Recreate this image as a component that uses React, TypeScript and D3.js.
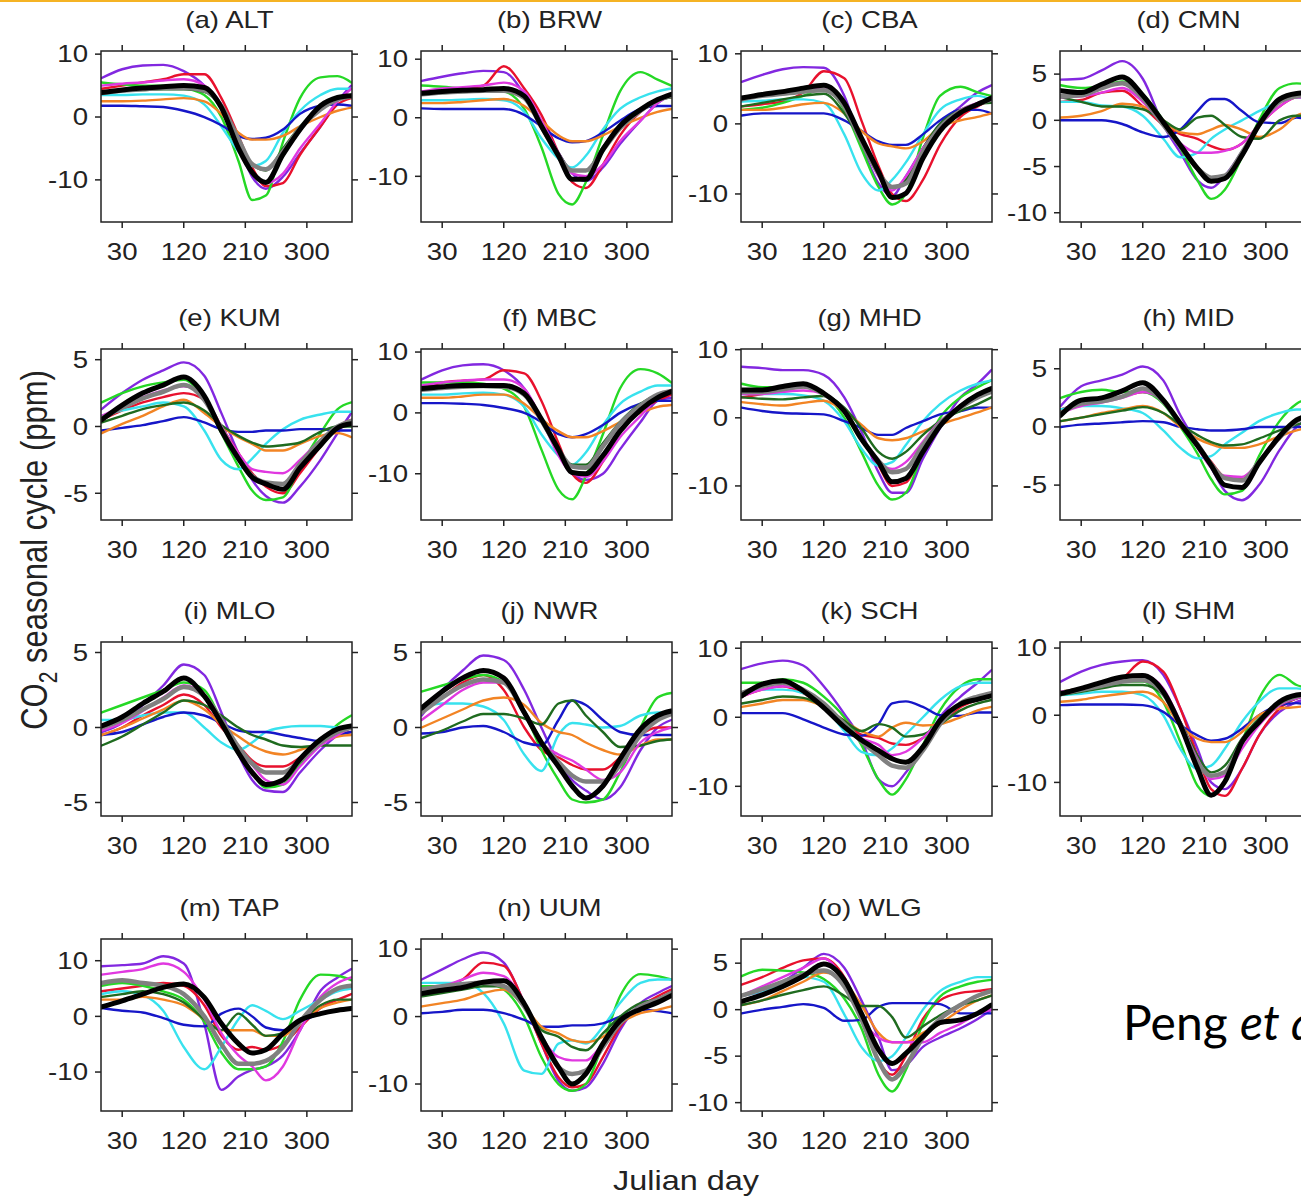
import React from "react";
import * as d3 from "d3";

// days at which every curve is sampled
const days = [0, 30, 60, 90, 120, 150, 175, 200, 220, 240, 265, 290, 320, 345, 365];
const dayTicks = [30, 120, 210, 300];

// order: 8 models, model mean (gray), observation (black)
const lineColors = ["#8228e0", "#e8112d", "#25d825", "#38e2ee", "#1616c8", "#f28424", "#1f6b1f", "#e038e0", "#808080", "#000000"];
const lineWidths = [2.4, 2.4, 2.4, 2.4, 2.4, 2.4, 2.4, 2.4, 4.5, 5];

const ALT = [
  [6.2, 7.6, 8.2, 8.3, 7.3, 5, 1.5, -4.5, -9.5, -11.4, -9.5, -5.8, -1.5, 2.5, 5],
  [4.5, 5, 5.5, 6, 6.8, 6.8, 3, -3, -8, -11, -10.5, -6, -1.5, 2, 3],
  [5.5, 5.2, 5, 5, 4.6, 3.5, 0, -7, -13.2, -12.5, -4, 3, 6.3, 6.5, 5.5],
  [3.5, 3.5, 3.6, 3.6, 3.4, 2, -1.5, -5.5, -7.8, -7, -2.5, 1, 3.5, 4.5, 4.5],
  [1.8, 1.8, 1.7, 1.6, 1.0, 0, -1.3, -3, -3.5, -3.3, -2, 0.5, 1.8, 2, 1.8],
  [2.5, 2.5, 2.6, 2.8, 3, 2.5, 0.5, -2.5, -3.6, -3.6, -3, -1.5, 0, 1, 1.5],
  [4, 4.2, 4.3, 4.4, 4.4, 4, 1.5, -4, -7.5, -8.5, -5, -1.5, 1.5, 3, 3.5],
  [5, 5.3, 5.5, 5.8, 6, 5, 2, -4, -9, -10.5, -9, -5, -1, 2.5, 4.5],
  [3.8, 4.2, 4.4, 4.6, 4.6, 4.2, 1.8, -3.5, -7.5, -8.3, -5.5, -1.8, 1.2, 2.8, 3.3],
  [3.9, 4.3, 4.6, 4.8, 5.0, 4.7, 1.5, -5, -8.8, -10.4, -6, -2, 1.8, 3.1, 3.4],
];
const BRW = [
  [6.3, 7, 7.6, 8, 7.8, 4, -1, -6, -9.5, -10.8, -8.5, -4.5, -0.5, 2.5, 4],
  [4, 4.5, 5, 5.5, 8.8, 5, 0.5, -6, -11, -12, -8, -3, 1, 3, 3.5],
  [5.5, 5.3, 5, 4.8, 4.5, 1.5, -5, -13, -14.8, -11, -3, 4.5, 7.8, 6.5, 5.5],
  [3, 3, 3.1, 3.2, 3, 1, -3.5, -7, -8.5, -6.5, -2, 1.5, 3.5, 4.5, 5],
  [1.6, 1.5, 1.5, 1.5, 1.5, 0.5, -1.5, -3.5, -4.2, -4, -2.5, -0.5, 1.5, 2, 2],
  [2.5, 2.5, 2.7, 3, 3.2, 2, -0.5, -3, -4, -4, -3, -1.5, 0, 1, 1.5],
  [4, 4.2, 4.4, 4.5, 4.5, 3.5, -1, -6, -9, -9, -5, -1.5, 1.5, 3, 3.5],
  [4.5, 5, 5.2, 5.5, 6, 4.5, -0.5, -6, -9.5, -10, -8, -4, -0.5, 2.5, 4],
  [4, 4.3, 4.5, 4.6, 4.6, 3.4, -1.5, -6.5, -9, -9, -5.5, -1.8, 1.2, 3, 3.8],
  [4.2, 4.5, 4.7, 4.8, 5, 3.7, -1.4, -6.5, -10.5, -10.5, -5.4, -1.4, 1.4, 3.1, 4],
];
const CBA = [
  [6, 7, 7.8, 8.1, 8, 4, -3, -8.5, -10.3, -7.5, -3.5, 0, 2.5, 4.5, 5.5],
  [2.5, 2.8, 3.2, 4.5, 7.5, 6.5, 0.5, -6, -10, -11, -8, -3, 1, 2.5, 3.5],
  [2, 2.3, 3, 4, 5, 2, -3.5, -9, -11.5, -10, -2, 4, 5.3, 4.5, 4],
  [3.2, 3.3, 3.5, 3.5, 3, -1.5, -7, -9.5, -8, -5.5, -1.5, 2, 3.5, 4, 3.5],
  [1.2, 1.5, 1.5, 1.5, 1.5, 0.5, -1, -2.5, -3, -3, -1.5, 0.5, 2, 2, 1.5],
  [2, 2, 2.3, 2.8, 3, 1.5, -1, -2.8, -3.2, -3.5, -2.5, -0.5, 0.5, 1, 1.5],
  [2.5, 3, 3.5, 4, 4.3, 1.5, -2.5, -7, -9, -8, -3.5, 0, 2, 2.8, 3],
  [3.5, 4, 4.5, 5, 5, 2.5, -2.5, -7.5, -9.5, -7.5, -3.5, -0.5, 2, 3, 3.5],
  [3.5, 4, 4.3, 4.6, 4.8, 2.5, -2.5, -7, -9, -8.5, -4, -0.5, 1.8, 2.8, 3.5],
  [3.7, 4.2, 4.6, 5.1, 5.5, 3, -2, -6.8, -10.5, -9.9, -4.9, -1, 1.6, 2.8, 3.7],
];
const CMN = [
  [4.4, 4.5, 5.4, 6.4, 4.5, -0.5, -3.5, -6.5, -7.3, -6, -3.4, -0.5, 2.3, 2.5, 2.5],
  [2, 2.2, 3, 3.2, 1.5, -0.5, -1.5, -2, -2.8, -3.2, -2.5, -0.5, 1.5, 2.5, 2.5],
  [3.8, 3.5, 3.7, 4.2, 2.8, 0, -3, -6.5, -8.5, -7.5, -4, 0, 3.5, 4, 3.8],
  [2, 2, 1.6, 1.5, 0.5, -2, -4, -3.5, -2, -1, 0, 1, 2, 2.5, 2.5],
  [0, 0, 0, -0.4, -1.3, -1.8, -1.0, 1.0, 2.3, 2.3, 1.0, -0.2, -0.3, 0.3, 0],
  [0.3, 0.5, 1, 1.8, 1.5, 0, -1.3, -1.5, -1, -0.5, -1, -1.8, -1, 0.5, 1],
  [2.5, 2, 1.5, 1.5, 1.2, 0, -1, 0.3, 0.5, -0.5, -1.8, -2, 0, 0.5, 0.5],
  [2.5, 2.6, 3, 3.5, 2, -0.5, -2.5, -3.5, -3.5, -3.3, -2.5, -0.5, 1.5, 2.5, 2.5],
  [2.6, 2.7, 3.5, 4, 2.4, -0.5, -2.8, -5.2, -6.2, -6, -3.5, -0.5, 2, 2.6, 2.8],
  [3.2, 3, 3.9, 4.7, 2.7, -0.2, -2.7, -5.2, -6.6, -6.3, -3.8, -0.5, 2.3, 2.9, 3],
];
const KUM = [
  [1.3, 2.5, 3.5, 4.2, 4.8, 3.8, 1, -2, -4, -5.2, -5.7, -4.5, -2.5, -0.5, 1],
  [0.5, 1.2, 1.8, 2.2, 2.5, 2, 0, -2, -3.5, -4.5, -5, -3.5, -1.5, 0, 0.5],
  [1.8, 2.5, 3, 3.3, 3.5, 2, -0.5, -3, -4.8, -5.5, -5.3, -3, -0.5, 1.3, 1.8],
  [0.8, 1.2, 1.5, 1.8, 1.5, -0.3, -2.5, -3.2, -2.4, -1.3, -0.2, 0.5, 0.9, 1.1, 1.1],
  [-0.3, -0.1, 0.1, 0.4, 0.7, 0.3, -0.2, -0.4, -0.4, -0.3, -0.3, -0.2, -0.2, -0.3, -0.3],
  [-0.5, 0.2, 0.8, 1.5, 2, 1, 0, -0.8, -1.3, -1.8, -1.8, -1.3, -0.7, -0.5, -0.8],
  [0.3, 0.8, 1.3, 1.6, 1.8, 1.2, 0.1, -0.7, -1.2, -1.5, -1.4, -1.2, -0.4, 0, 0],
  [0.8, 1.5, 2.2, 2.7, 3, 2.2, 0, -2, -3.2, -3.4, -3.5, -2.5, -1, 0, 0.5],
  [0.6, 1.4, 2.1, 2.6, 3.1, 2, -0.2, -2.4, -3.7, -4.2, -4.3, -2.8, -1.1, 0, 0.4],
  [0.5, 1.6, 2.5, 3.1, 3.7, 2.3, -0.3, -2.4, -3.8, -4.3, -4.7, -3.1, -1.4, -0.1, 0.2],
];
const MBC = [
  [5.5, 7, 7.8, 8, 7, 4, -1, -6.5, -10, -11, -10, -6, -1.5, 2, 2.5],
  [4, 5, 5.3, 5.5, 7, 6.5, 2, -5, -10, -11.5, -8, -3, 0.5, 2, 3],
  [5, 5, 5, 4.8, 4, 1, -6, -12.6, -14.2, -10.4, -3.5, 4, 7.2, 6.5, 5],
  [3, 3, 3.2, 3.3, 3, 1, -3.5, -7, -8.5, -6.5, -2, 1.5, 3.5, 4.5, 4.5],
  [1.6, 1.6, 1.5, 1.3, 0.8, 0, -1.5, -3.5, -4, -3.5, -2, 0, 1.5, 2, 2],
  [2.5, 2.5, 2.7, 3, 3, 1.5, -1, -3, -4, -4, -3, -1.5, 0, 1, 1.3],
  [4, 4.2, 4.3, 4.3, 4.2, 3, -1, -6, -8.5, -8.5, -5, -1.5, 1.5, 3, 3.5],
  [4.5, 5, 5.3, 5.5, 5.5, 4, -1, -7, -10, -10.5, -8, -4, -0.5, 2.5, 3.5],
  [3.8, 4.1, 4.3, 4.4, 4.3, 3, -1.2, -6, -8.8, -9, -5.5, -1.8, 1.2, 3, 3.6],
  [4, 4.3, 4.5, 4.5, 4.5, 3.2, -1, -6, -9.8, -10, -7, -3, 0.5, 2.5, 3.5],
];
const MHD = [
  [7.5, 7.3, 7, 7, 6.3, 3, -2, -8, -11, -11, -6, -1.5, 3, 5, 7],
  [3, 3.5, 4, 4.5, 3.5, 1, -3, -7, -10, -9.5, -5, -1, 1.5, 3, 4],
  [5, 4.5, 4.5, 4.5, 3.5, 0, -5, -10, -12, -11, -5, 0, 3, 4.5, 5.5],
  [3.5, 3.5, 3.5, 3.3, 2.5, -0.5, -4.5, -7, -6.5, -4, -0.5, 2, 4, 5, 5.5],
  [1.5, 1, 0.7, 0.6, 0.5, -0.5, -1.5, -2.5, -2.5, -1.5, -0.5, 0.5, 1, 1.5, 1.5],
  [2.3, 2, 1.8, 2.2, 2.5, 1, -1, -3, -3.3, -3, -2, -1, 0, 0.8, 1.5],
  [3, 2.8, 2.7, 3, 3.2, 1.5, -1.5, -5, -6, -5, -2.5, -0.5, 1, 2, 3],
  [3.5, 3.5, 3.8, 4, 3.5, 1, -3, -6.5, -7.5, -6.5, -3.5, -0.5, 1.5, 3, 4],
  [3.8, 3.8, 4.2, 4.6, 3.5, 1, -3, -6.3, -8, -7.5, -4, -0.8, 1.5, 3, 3.8],
  [4.1, 4.1, 4.6, 5, 3.6, 1, -3.1, -6.5, -9.4, -8.9, -5, -1.2, 1.7, 3.4, 4.3],
];
const MID = [
  [1.8, 3.5, 4, 4.5, 5.2, 4, 1, -1.5, -3.5, -5.5, -6.3, -5, -2, 0, 0.8],
  [1.5, 2, 2.3, 2.6, 3, 2.2, 0.3, -1.5, -3, -4.3, -4.5, -3, -1, 0.5, 1],
  [2.5, 3, 3.2, 3, 3, 2, 0, -2.3, -4.5, -5.8, -5.5, -2.5, 0.5, 2, 2.5],
  [1.5, 1.8, 1.8, 1.6, 1.2, -0.3, -1.8, -2.7, -2.5, -1.5, -0.5, 0.5, 1.2, 1.5, 1.5],
  [0, 0.2, 0.3, 0.4, 0.5, 0.4, 0, -0.2, -0.3, -0.3, -0.2, 0, 0, 0, 0],
  [0.5, 0.8, 1.2, 1.5, 1.8, 1.2, 0, -1, -1.5, -1.8, -1.8, -1.5, -0.8, -0.3, 0],
  [0.5, 0.8, 1.1, 1.4, 1.7, 1.2, 0.2, -0.7, -1.3, -1.6, -1.5, -1, -0.3, 0.2, 0.5],
  [1.2, 1.8, 2.1, 2.5, 3, 2.2, 0.3, -1.8, -3.5, -4.2, -4.3, -3, -1, 0.5, 1],
  [1.2, 2, 2.2, 2.6, 3.3, 2.2, 0.3, -1.5, -3.2, -4.4, -4.6, -3, -0.9, 0.5, 1],
  [1, 2.3, 2.5, 3.1, 3.8, 2.3, 0.3, -1.6, -3.3, -5, -5.2, -3.1, -0.8, 0.6, 1],
];
const MLO = [
  [-0.3, 0.3, 1.5, 2.8, 4.2, 3.5, 1, -1.8, -3.5, -4.2, -4.3, -3, -1.5, -0.5, 0],
  [-0.5, 0, 0.8, 1.5, 2.2, 1.5, 0, -1.2, -2.2, -2.6, -2.6, -2, -1, -0.5, -0.3],
  [1, 1.5, 2, 2.5, 3, 2.5, 0.5, -1.5, -3, -4, -3.8, -2.5, -1, 0.2, 0.8],
  [0.5, 0.5, 0.8, 1, 1, 0, -1, -1.5, -1, -0.3, 0, 0.1, 0.1, 0, 0],
  [-0.5, -0.3, 0.2, 0.7, 1, 0.8, 0.3, -0.2, -0.3, -0.3, -0.5, -0.7, -0.9, -0.5, -0.3],
  [-0.5, 0, 0.6, 1.2, 1.8, 1.2, 0.2, -0.6, -1.2, -1.6, -1.8, -1.5, -1, -0.6, -0.5],
  [-1.2, -0.6, 0.2, 1, 1.8, 1.5, 0.8, 0, -0.5, -0.8, -1.2, -1.3, -1.2, -1.2, -1.2],
  [-0.2, 0.3, 1.1, 2, 2.8, 2.2, 0.5, -1.5, -2.5, -3.5, -3.8, -2.6, -1.2, -0.5, 0],
  [0, 0.5, 1.2, 1.9, 2.7, 2.1, 0.5, -1.3, -2.4, -3, -3, -2.2, -1, -0.3, 0],
  [0.1, 0.7, 1.6, 2.4, 3.3, 2.1, 0.3, -1.7, -3, -3.8, -3.5, -2.1, -0.8, -0.1, 0.1],
];
const NWR = [
  [0.8, 2.5, 3.8, 4.8, 4.5, 2.5, 0, -2.3, -3.5, -4.2, -4.8, -4, -1.5, 0, 0.5],
  [1, 2, 3, 3.5, 2.5, 0, -1.5, -2, -2.5, -2.8, -2.8, -2, -0.5, 0, 0],
  [2.4, 2.8, 3.2, 3.5, 3, 1, -1.5, -3.5, -4.8, -5, -4.8, -3, 0, 2, 2.3],
  [1.3, 1.6, 1.6, 1.4, 0.5, -1.8, -2.9, -0.5, 0.3, 0.2, 0, 0.1, 0.8, 1, 1],
  [-0.4, -0.3, 0, 0.1, -0.3, -1, -1.2, 0.5, 1.8, 1.5, 0.5, -0.3, -0.5, -0.5, -0.5],
  [0, 0.6, 1.2, 1.8, 2, 1.5, 0.3, -0.3, -0.5, -1, -1.5, -1.8, -1.2, -0.8, -0.8],
  [-0.7, -0.2, 0.4, 0.9, 0.9, 0.6, 0.2, 1.6, 1.8, 0.8, -0.3, -1.3, -1.2, -0.9, -0.8],
  [0.5, 1.5, 2.5, 3, 3, 1, -1, -1.8, -2.2, -2.8, -3.5, -3, -1, -0.3, 0],
  [1, 2, 2.8, 3.2, 3, 1, -1, -2.3, -3.2, -3.6, -3.6, -2.5, -0.5, 0.5, 0.9],
  [1.3, 2.4, 3.3, 3.8, 3.3, 1, -1, -2.6, -3.9, -4.7, -3.9, -2.1, -0.1, 0.8, 1.1],
];
const SCH = [
  [7, 7.8, 8.2, 7.5, 4.5, 0.5, -3.3, -9, -10, -8, -4.5, 0, 3, 5, 6.8],
  [3, 4, 4.5, 3.5, 1.5, -1, -2.5, -3, -3.8, -4, -3, -1, 1.5, 2.5, 3],
  [5, 5, 5.5, 5, 3, 0, -4, -9, -11.2, -9, -4, 1, 4.5, 5.5, 5.5],
  [3.5, 4, 4, 3.5, 1.5, -2, -5, -5.5, -4.5, -2.5, 0, 2.5, 4.5, 5, 5],
  [0.6, 0.6, 0.6, -0.3, -1.5, -2.5, -2.7, -1, 2, 2.3, 1.5, 0.3, 0.2, 0.7, 0.7],
  [1.5, 2, 2.5, 2.5, 1.5, -0.5, -2, -2.8, -1.5, -0.8, -1.2, -1, 0, 1, 1.5],
  [2, 2.5, 3, 2.8, 1.5, -0.5, -2, -1, -1.5, -2.8, -2.5, -1, 1, 2, 2.5],
  [3, 4, 4.5, 4, 2, -1, -3, -4, -5.5, -5, -3, -0.5, 2, 3, 3.5],
  [3.5, 4.5, 5, 4, 2, -1, -3.5, -5.5, -7, -7.3, -4.8, -1, 2, 3, 3.5],
  [3.1, 4.8, 5.3, 3.8, 1.4, -1.4, -3.3, -4.8, -6, -6.5, -4.3, -0.5, 1.9, 2.6, 3.1],
];
const SHM = [
  [5, 6.5, 7.5, 8, 8.2, 6, 1, -5, -10, -11, -8, -3, 0.5, 2, 2.5],
  [3.5, 4, 4.5, 5.5, 8, 6.5, 1, -6, -11, -12, -8, -3, 1, 2.5, 3],
  [3.5, 4, 4.5, 5, 5, 2, -4, -10.5, -12, -10, -4, 2.5, 6, 4.5, 4],
  [3, 3.2, 3.5, 3.5, 3, 0, -5, -8, -7.5, -5, -1, 2, 4, 4, 3.5],
  [1.5, 1.6, 1.6, 1.6, 1.5, 0.5, -1.5, -3, -3.8, -3.5, -2, 0, 1.5, 1.8, 1.5],
  [2, 2.3, 2.8, 3.2, 3.5, 2, -1.5, -3.5, -4, -4, -2.5, 0, 1, 1.2, 1.5],
  [3, 3.5, 4, 4.5, 4.5, 3, -1, -6, -8.5, -7.5, -3.5, -0.5, 1.5, 2.5, 3],
  [3.5, 4, 4.8, 5.5, 6, 4, -1, -6.5, -9.5, -9, -5, -1.5, 1.5, 2.5, 3],
  [3.2, 3.8, 4.4, 5, 5.2, 3.2, -1.5, -7, -9, -8.5, -4, -1, 1.8, 2.8, 3.2],
  [3.2, 4, 4.9, 5.7, 5.9, 3.5, -1.5, -7.9, -11.9, -9.9, -4, -1, 2, 3, 3.2],
];
const TAP = [
  [9, 9.2, 9.5, 10.8, 9.5, -1.3, -13.2, -10.8, -9.6, -9, -7, -2.5, 4.6, 7, 8.5],
  [4.5, 5, 5.5, 6, 5.5, 2, -3.5, -6, -5.5, -6, -5, -2, 1.5, 3, 4],
  [5.5, 6, 5.5, 4.5, 3, -1, -6.5, -9.5, -9.5, -9, -4.5, 3, 7.5, 7.3, 6.5],
  [4, 4.5, 3.8, 1, -5.5, -9.5, -5.5, -0.5, 2, 1, -0.5, 1, 3, 4.5, 5],
  [1.5, 1, 0.7, -0.3, -1.5, -1.8, 0.5, 1.4, 0, -2, -2.5, -1, 0.5, 1.2, 1.5],
  [3, 3, 3.5, 3, 2, -0.5, -2.5, -2.5, -2.5, -3.5, -3.5, -1, 1.5, 2.5, 3],
  [3.5, 4, 4.5, 4, 2.5, -0.5, -2.5, 0.5, -1.5, -3.5, -3, -1, 2, 3, 3],
  [7.5, 8, 8.5, 9.5, 8, 3, -3, -7, -9, -11.5, -9, -2.5, 3.5, 6, 7],
  [6, 6.5, 6, 5.5, 4, 0, -5, -8.5, -8.5, -8, -5.5, -1, 3, 5, 5.5],
  [1.7, 2.8, 4, 5.2, 5.8, 3.4, -1.3, -4.9, -6.6, -6, -3.1, -0.7, 0.5, 1.1, 1.4],
];
const UUM = [
  [5.5, 7, 8.5, 9.5, 8, 2, -4, -9.5, -11, -10.5, -7, -2, 2, 3.5, 4.5],
  [4, 4.5, 5.5, 8, 7.5, 2, -4, -9, -10.5, -10, -6, -1.5, 1.5, 3, 4],
  [4.5, 4.5, 4.8, 5, 4, 0, -6, -10, -11, -10, -4, 3, 6.3, 6, 5.5],
  [5, 5, 5, 3.5, -1, -8, -8.5, -4, -3.5, -4, -1.5, 2, 5, 5.5, 5.5],
  [0.5, 0.7, 1, 1, 0.5, -0.5, -1.5, -1.5, -1.3, -1.3, -1, 0, 1, 0.8, 0.5],
  [1.5, 2, 2.5, 3.5, 4, 1.5, -1.5, -2.5, -3.5, -3.8, -3, -1, 0.5, 1, 1.5],
  [3, 3.5, 4, 4.5, 4.5, 1.5, -2, -3, -4.5, -5, -2.5, 0, 2, 2.5, 3],
  [4, 4.5, 5.5, 6.5, 6, 2, -3, -6, -6.5, -6.5, -4, -1, 1.5, 2.5, 3.5],
  [4, 4.5, 4.8, 5, 4.5, 1.5, -3, -7.5, -8.5, -8, -4.5, -1, 1.5, 2.5, 3.5],
  [3.4, 3.9, 4.3, 5.1, 5.3, 1.9, -3.1, -7.5, -10, -8.5, -4, -0.6, 1.1, 2.1, 3.1],
];
const WLG = [
  [1.5, 2, 3, 4.5, 6, 4.5, 1, -3, -6.5, -6, -4, -3, -2, -1, 0],
  [2.7, 3.5, 4.5, 5.3, 5.5, 3.5, -0.5, -5.5, -7, -5, -1, 1, 1.8, 2, 2.2],
  [3.6, 4.3, 4.2, 4, 3.3, 1.2, -2, -7, -8.8, -6.5, -1.5, 1.4, 2.5, 3, 3.2],
  [1.5, 2, 2.8, 3.5, 3, -0.5, -4, -5.5, -5, -3, 0, 2, 3, 3.5, 3.5],
  [-0.4, 0, 0.3, 0.6, 0.2, -1.2, -1.1, 0.3, 0.7, 0.7, 0.7, 0.6, -0.4, -0.4, -0.4],
  [0.5, 1, 2, 3, 4, 3, 0.5, -2.5, -3.5, -3.5, -2.5, -1.5, 0, 1, 1.5],
  [0.5, 1, 1.6, 2.1, 2.5, 1.5, 0.4, 0.4, -0.8, -3, -1.8, -0.6, 0.5, 1, 1.5],
  [1.5, 2.5, 3.5, 4.5, 5.5, 3, -1, -3, -3.5, -3.5, -3.5, -2.5, -1.5, -0.5, 0],
  [1.5, 2.2, 3, 3.8, 4.2, 2.5, -1, -5.5, -7.5, -6, -3, -1, 0.5, 1.5, 2],
  [0.9, 1.6, 2.5, 3.6, 4.9, 3.2, -0.4, -4.3, -5.8, -4.7, -2.9, -1.4, -1.1, -0.4, 0.5],
];

const stations = [
  { title: "(a) ALT", values: ALT, yRange: [-16.7, 10.5], yTicks: [-10, 0, 10] },
  { title: "(b) BRW", values: BRW, yRange: [-17.8, 11.4], yTicks: [-10, 0, 10] },
  { title: "(c) CBA", values: CBA, yRange: [-14, 10.4], yTicks: [-10, 0, 10] },
  { title: "(d) CMN", values: CMN, yRange: [-11, 7.5], yTicks: [-10, -5, 0, 5] },
  { title: "(e) KUM", values: KUM, yRange: [-7, 5.8], yTicks: [-5, 0, 5] },
  { title: "(f) MBC", values: MBC, yRange: [-17.6, 10.5], yTicks: [-10, 0, 10] },
  { title: "(g) MHD", values: MHD, yRange: [-15, 10.1], yTicks: [-10, 0, 10] },
  { title: "(h) MID", values: MID, yRange: [-8, 6.7], yTicks: [-5, 0, 5] },
  { title: "(i) MLO", values: MLO, yRange: [-5.9, 5.7], yTicks: [-5, 0, 5] },
  { title: "(j) NWR", values: NWR, yRange: [-5.9, 5.7], yTicks: [-5, 0, 5] },
  { title: "(k) SCH", values: SCH, yRange: [-14.3, 10.9], yTicks: [-10, 0, 10] },
  { title: "(l) SHM", values: SHM, yRange: [-15, 10.9], yTicks: [-10, 0, 10] },
  { title: "(m) TAP", values: TAP, yRange: [-17, 13.9], yTicks: [-10, 0, 10] },
  { title: "(n) UUM", values: UUM, yRange: [-14, 11.5], yTicks: [-10, 0, 10] },
  { title: "(o) WLG", values: WLG, yRange: [-10.9, 7.6], yTicks: [-10, -5, 0, 5] },
];

// grid of panels
const colLeft = [101, 421, 741, 1060];
const rowTop = [51, 349, 642, 939];
const rowBottom = [222, 520, 816, 1111];
const boxW = 251;
const font = "'Liberation Sans', Arial, sans-serif";
const ink = "#222";
const stretch = 1.2; // the source image is widened horizontally

const Txt = ({ x, y, anchor = "middle", size = 23, dy = "0", children }: any) => (
  <text
    transform={`translate(${x},${y}) scale(${stretch},1)`}
    textAnchor={anchor}
    fontSize={size}
    dy={dy}
    fill={ink}
    fontFamily={font}
  >
    {children}
  </text>
);

function Panel({ st, i }: any) {
  const left = colLeft[i % 4];
  const top = rowTop[Math.floor(i / 4)];
  const bottom = rowBottom[Math.floor(i / 4)];
  const right = left + boxW;

  const x = d3.scaleLinear().domain([-1, 366]).range([left, right]);
  const y = d3.scaleLinear().domain(st.yRange).range([bottom, top]);
  const line = d3
    .line<number>()
    .x((_, j) => x(days[j]))
    .y((v) => y(v))
    .curve(d3.curveMonotoneX);

  const clipId = `clip${i}`;
  const tick = 6;

  return (
    <g>
      <clipPath id={clipId}>
        <rect x={left} y={top} width={boxW} height={bottom - top} />
      </clipPath>
      <Txt x={(left + right) / 2 + 3} y={top - 23}>{st.title}</Txt>
      <g clipPath={`url(#${clipId})`} fill="none" strokeLinejoin="round" strokeLinecap="round">
        {st.values.map((vals: number[], k: number) => (
          <path key={k} d={line(vals) || ""} stroke={lineColors[k]} strokeWidth={lineWidths[k]} />
        ))}
      </g>
      <rect x={left} y={top} width={boxW} height={bottom - top} fill="none" stroke={ink} strokeWidth={1.5} />
      {dayTicks.map((d) => (
        <g key={d}>
          <line x1={x(d)} x2={x(d)} y1={bottom} y2={bottom + tick} stroke={ink} strokeWidth={1.5} />
          <line x1={x(d)} x2={x(d)} y1={top} y2={top - tick} stroke={ink} strokeWidth={1.5} />
          <Txt x={x(d)} y={bottom + 38}>{d}</Txt>
        </g>
      ))}
      {st.yTicks.map((v: number) => (
        <g key={v}>
          <line x1={left} x2={left - tick} y1={y(v)} y2={y(v)} stroke={ink} strokeWidth={1.5} />
          <line x1={right} x2={right + tick} y1={y(v)} y2={y(v)} stroke={ink} strokeWidth={1.5} />
          <Txt x={left - 13} y={y(v)} anchor="end" dy="0.36em">{v}</Txt>
        </g>
      ))}
    </g>
  );
}

export default function App() {
  return (
    <div style={{ position: "absolute", left: 0, top: 0 }}>
      <svg width={1301} height={1198} style={{ display: "block", background: "#fff" }}>
        <rect x={0} y={0} width={1301} height={2} fill="#f5b324" />
        {stations.map((st, i) => (
          <Panel key={st.title} st={st} i={i} />
        ))}
        <text
          transform={`translate(47,550) scale(${stretch},1) rotate(-90)`}
          textAnchor="middle"
          fontSize={31}
          fill={ink}
          fontFamily={font}
        >
          CO
          <tspan fontSize={21} dy={8}>2</tspan>
          <tspan dy={-8}> seasonal cycle (ppm)</tspan>
        </text>
        <Txt x={686} y={1190} size={27}>Julian day</Txt>
        <text x={1123} y={1040} fontSize={48} fill="#000" fontFamily="Lato, 'Open Sans', sans-serif">
          Peng <tspan fontStyle="italic">et al.</tspan>
        </text>
      </svg>
    </div>
  );
}
